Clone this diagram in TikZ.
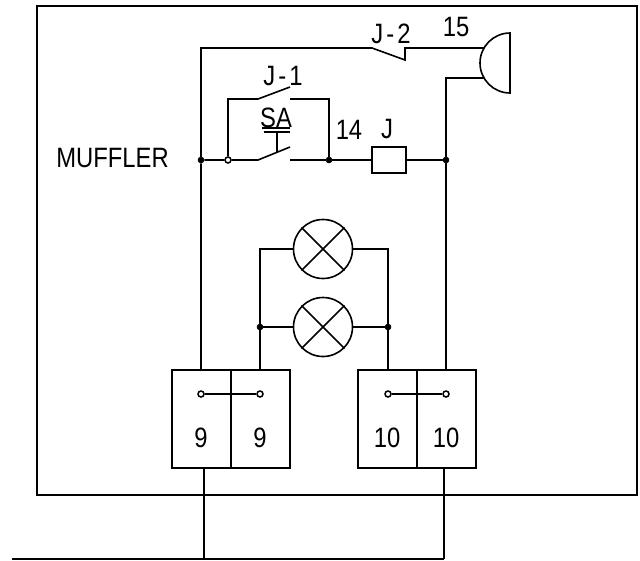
\documentclass[tikz,border=0pt]{standalone}
\usepackage{fontspec}
\setmainfont[FakeStretch=0.85]{Liberation Sans}
\tikzset{every picture/.style={line width=1.6pt}}
\tikzset{
  label/.style={inner sep=0pt,font=\fontsize{28}{28}\selectfont},
  junction/.style={circle,fill=black,draw=black,line width=0.5pt,minimum size=6pt,inner sep=0pt},
  pin/.style={circle,draw=black,line width=1.5pt,fill=white,minimum size=6pt,inner sep=0pt},
  lamp/.style={circle,draw,minimum size=59pt,inner sep=0pt},
  relay/.style={draw,minimum width=34pt,minimum height=26pt,inner sep=0pt},
  cell/.style={draw,minimum width=59pt,minimum height=98pt,inner sep=0pt}
}
\begin{document}
\begin{tikzpicture}[x=1pt,y=1pt,yscale=-1,xscale=1]
    \useasboundingbox (0,0) rectangle (640,560);
    % frame
    \draw (37,6) rectangle (637,495);
    % boxes
    \node[cell] (c1) at (201.5,419) {};
    \node[cell] (c2) at (260.5,419) {};
    \node[cell] (c3) at (387.5,419) {};
    \node[cell] (c4) at (446.5,419) {};
    \node[relay] (coil) at (389,160) {};
    \node[lamp] (lampa) at (323,249) {};
    \node[lamp] (lampb) at (323,327) {};
    % junctions
    \node[junction] (ja) at (201,160) {};
    \node[pin] (jb) at (228,160) {};
    \node[junction] (jc) at (329,160) {};
    \node[junction] (jd) at (446,160) {};
    \node[junction] (je) at (260,327) {};
    \node[junction] (jf) at (388,327) {};
    \node[pin] (pa) at (201,394) {};
    \node[pin] (pb) at (260,394) {};
    \node[pin] (pc) at (388,394) {};
    \node[pin] (pd) at (446,394) {};
    % horn
    \draw (510,33) arc (270:90:30) -- cycle;
    \coordinate (hornt) at (484,48);
    \coordinate (hornb) at (484,78);
    % bus
    \coordinate (busl) at (12,559);
    \coordinate (busa) at (204,559);
    \coordinate (busb) at (444,559);
    % rails
    \draw (c1.north -| ja) -- (ja) -- (201,48) -- (372,48) -- (405,60) -- (405,48) -- (hornt);
    \draw (c4.north -| jd) -- (jd) -- (446,78) -- (hornb);
    % contacts
    \draw (ja) -- (jb) -- (258,160) -- (290,147);
    \draw (290,160) -- (jc) -- (coil.west);
    \draw (coil.east) -- (jd);
    \draw (jb) -- (228,99) -- (258,99) -- (290,87);
    \draw (290,99) -- (329,99) -- (jc);
    \draw (264,132) -- (290,132);
    \draw (277,132) -- (277,152);
    \draw (262,128) -- (290,128);
    % lamps
    \draw (c2.north -| je) -- (je) -- (260,249) -- (lampa.west);
    \draw (je) -- (lampb.west);
    \draw (c3.north -| jf) -- (jf) -- (388,249) -- (lampa.east);
    \draw (jf) -- (lampb.east);
    \draw (lampa.north west) -- (lampa.south east);
    \draw (lampa.north east) -- (lampa.south west);
    \draw (lampb.north west) -- (lampb.south east);
    \draw (lampb.north east) -- (lampb.south west);
    \draw (pa) -- (pb);
    \draw (pc) -- (pd);
    % leads
    \draw (c1.south -| busa) -- (busa);
    \draw (c4.south -| busb) -- (busb);
    \draw (busl) -- (busa) -- (busb);
    % labels
    \node[label] (t15) at (456,27) {15};
    \node[label] (tj2) at (391,33.5) {J\kern3pt-\kern3pt2};
    \node[label] (tj1) at (283,76) {J\kern3pt-\kern3pt1};
    \node[label] (tsa) at (276,118) {SA};
    \node[label] (t14) at (349,130) {14};
    \node[label] (tj) at (387,129) {J};
    \node[label] (tm) at (112.5,158) {MUFFLER};
    \node[label] (n1) at (201,438) {9};
    \node[label] (n2) at (260,438) {9};
    \node[label] (n3) at (387,438) {10};
    \node[label] (n4) at (446,438) {10};
\end{tikzpicture}
\end{document}
